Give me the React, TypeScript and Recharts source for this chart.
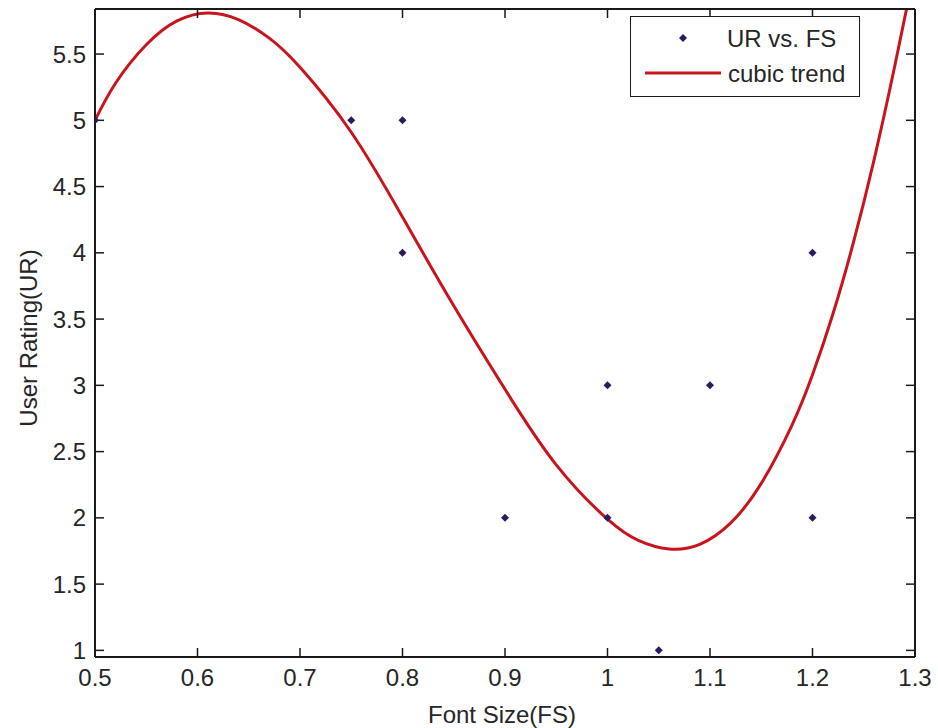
import React from 'react';
import { ComposedChart, Line, Scatter, XAxis, YAxis, Legend } from 'recharts';

const FONT = '"Liberation Sans", Arial, sans-serif';
const FONT_SIZE = 24;
const TEXT_COLOR = '#262626';
const AXIS_COLOR = '#1a1a1a';
const MARKER_COLOR = '#2b1a5e';
const TREND_COLOR = '#c8141c';
const TICK_LEN = 9;

// observed points
const fontSizes = [0.5, 0.75, 0.8, 0.8, 0.9, 1, 1, 1.05, 1.1, 1.2, 1.2];
const userRatings = [5, 5, 5, 4, 2, 3, 2, 1, 3, 4, 2];

// cubic trend
const trendX = [
  0.5, 0.52, 0.55, 0.58, 0.61, 0.64, 0.67, 0.7, 0.75, 0.8, 0.85, 0.9, 0.95, 1.0, 1.03,
  1.06, 1.09, 1.12, 1.15, 1.18, 1.2, 1.22, 1.24, 1.26, 1.28, 1.3,
];
const trendY = [
  5.0, 5.28, 5.57, 5.75, 5.81, 5.76, 5.62, 5.4, 4.91, 4.27, 3.6, 2.97, 2.4, 1.99, 1.83,
  1.765, 1.8, 1.96, 2.26, 2.7, 3.08, 3.54, 4.08, 4.7, 5.4, 6.15,
];

const xTicks = [0.5, 0.6, 0.7, 0.8, 0.9, 1, 1.1, 1.2, 1.3];
const yTicks = [1, 1.5, 2, 2.5, 3, 3.5, 4, 4.5, 5, 5.5];

const scatterData = fontSizes.map((x, i) => ({ x, y: userRatings[i] }));
const trendData = trendX.map((x, i) => ({ x, y: trendY[i] }));

const textProps = {
  fontFamily: FONT,
  fontSize: FONT_SIZE,
  fill: TEXT_COLOR,
} as const;

const tickLineStyle = { stroke: AXIS_COLOR, strokeWidth: 1.5 };
const axisLineStyle = { stroke: AXIS_COLOR, strokeWidth: 2 };

// tickSize is negative so the tick marks point into the plot, tickMargin puts x/y back on the axis
const BottomTick = (props: any) => {
  const { x, y, payload } = props;
  return (
    <text x={x} y={y + 29} textAnchor="middle" {...textProps}>
      {String(payload.value)}
    </text>
  );
};

const LeftTick = (props: any) => {
  const { x, y, payload } = props;
  return (
    <text x={x - 9} y={y} dy="0.36em" textAnchor="end" {...textProps}>
      {String(payload.value)}
    </text>
  );
};

const EmptyTick = () => <g />;

const Diamond = (props: any) => {
  const { cx, cy } = props;
  const r = 4;
  return (
    <polygon
      points={`${cx},${cy - r} ${cx + r},${cy} ${cx},${cy + r} ${cx - r},${cy}`}
      fill={MARKER_COLOR}
    />
  );
};

const LegendBox = () => (
  <div
    style={{
      width: 230,
      height: 81,
      border: `1.5px solid ${AXIS_COLOR}`,
      background: '#fff',
      boxSizing: 'border-box',
      position: 'relative',
    }}
  >
    <svg width={228} height={78} style={{ position: 'absolute', left: 0, top: 0 }}>
      <polygon points="52,17 56,21 52,25 48,21" fill={MARKER_COLOR} />
      <line x1={14} x2={90} y1={56} y2={56} stroke={TREND_COLOR} strokeWidth={3} />
      <text x={96} y={21} dy="0.36em" {...textProps}>
        UR vs. FS
      </text>
      <text x={97} y={56} dy="0.36em" {...textProps}>
        cubic trend
      </text>
    </svg>
  </div>
);

export default function App() {
  return (
    <div style={{ position: 'absolute', left: 0, top: 0, width: 938, height: 728, background: '#fff' }}>
      <ComposedChart width={938} height={728} margin={{ top: 8, right: 22, bottom: 0, left: 0 }}>
        <XAxis
          xAxisId="bottom"
          dataKey="x"
          type="number"
          domain={[0.5, 1.3]}
          ticks={xTicks}
          interval={0}
          allowDataOverflow
          height={71}
          tickSize={-TICK_LEN}
          tickMargin={TICK_LEN}
          tickLine={tickLineStyle}
          axisLine={axisLineStyle}
          tick={BottomTick}
          label={{
            content: (p: any) => {
              const vb = p.viewBox;
              return (
                <text x={vb.x + vb.width / 2 - 3} y={vb.y + 66} textAnchor="middle" {...textProps}>
                  Font Size(FS)
                </text>
              );
            },
          }}
        />
        <XAxis
          xAxisId="top"
          orientation="top"
          dataKey="x"
          type="number"
          domain={[0.5, 1.3]}
          ticks={xTicks}
          interval={0}
          allowDataOverflow
          height={1}
          tickSize={-TICK_LEN}
          tickMargin={0}
          tickLine={tickLineStyle}
          axisLine={axisLineStyle}
          tick={EmptyTick}
        />
        <YAxis
          yAxisId="left"
          type="number"
          domain={[0.95, 5.84]}
          ticks={yTicks}
          interval={0}
          allowDataOverflow
          width={95}
          tickSize={-TICK_LEN}
          tickMargin={TICK_LEN}
          tickLine={tickLineStyle}
          axisLine={axisLineStyle}
          tick={LeftTick}
          label={{
            content: (p: any) => {
              const vb = p.viewBox;
              const cx = vb.x + 37;
              const cy = vb.y + vb.height / 2 + 5;
              return (
                <text x={cx} y={cy} textAnchor="middle" transform={`rotate(-90 ${cx} ${cy})`} {...textProps}>
                  User Rating(UR)
                </text>
              );
            },
          }}
        />
        <YAxis
          yAxisId="right"
          orientation="right"
          type="number"
          domain={[0.95, 5.84]}
          ticks={yTicks}
          interval={0}
          allowDataOverflow
          width={1}
          tickSize={-TICK_LEN}
          tickMargin={0}
          tickLine={tickLineStyle}
          axisLine={axisLineStyle}
          tick={EmptyTick}
        />
        <Legend
          layout="horizontal"
          verticalAlign="middle"
          align="center"
          wrapperStyle={{ left: 630, top: 16, width: 230, height: 81 }}
          content={LegendBox}
        />
        <Line
          xAxisId="bottom"
          yAxisId="left"
          data={trendData}
          dataKey="y"
          type="natural"
          stroke={TREND_COLOR}
          strokeWidth={3}
          dot={false}
          activeDot={false}
          isAnimationActive={false}
        />
        <Scatter
          xAxisId="bottom"
          yAxisId="left"
          data={scatterData}
          dataKey="y"
          fill={MARKER_COLOR}
          shape={Diamond}
          isAnimationActive={false}
        />
      </ComposedChart>
    </div>
  );
}
